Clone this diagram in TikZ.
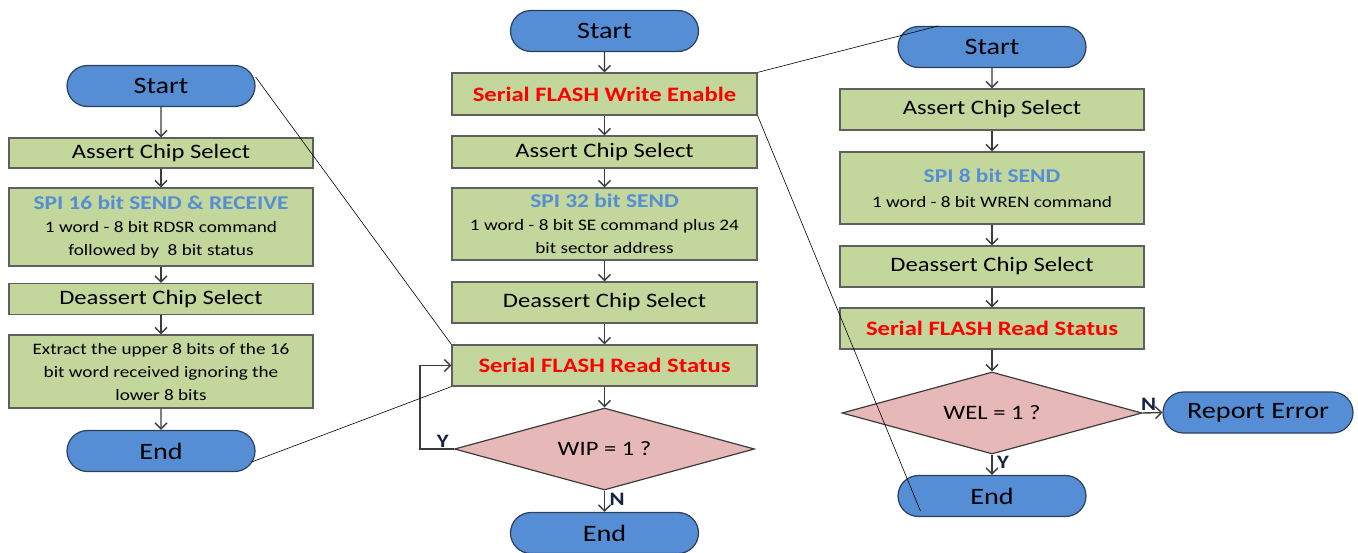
\documentclass[tikz,border=0pt]{standalone}
\usepackage{fontspec}
\setmainfont[FakeStretch=1.2]{Carlito}
\usetikzlibrary{shapes.geometric,shapes.misc,arrows.meta}
\definecolor{termblue}{RGB}{85,142,213}
\definecolor{termline}{RGB}{45,62,90}
\definecolor{boxgreen}{RGB}{195,214,155}
\definecolor{boxline}{RGB}{95,95,95}
\definecolor{decpink}{RGB}{230,185,184}
\definecolor{titleblue}{RGB}{85,142,213}
\definecolor{flowgray}{RGB}{60,60,60}
\definecolor{ynblue}{RGB}{20,35,70}
\newcommand\spititle[1]{{\fontsize{19.5}{24}\selectfont\bfseries\color{titleblue}#1}}
\newcommand\redtitle[1]{{\bfseries\color{red}#1}}
\tikzset{
  terminal/.style={rounded rectangle,draw=termline,line width=1.2pt,fill=termblue,
    minimum width=188pt,minimum height=41pt,inner sep=0pt,font=\fontsize{23.5}{28}\selectfont},
  stepbox/.style={rectangle,draw=boxline,line width=1.2pt,fill=boxgreen,
    minimum width=304pt,inner sep=0pt,align=center,font=\fontsize{20.5}{24}\selectfont},
  detailbox/.style={stepbox,font=\fontsize{16}{23}\selectfont},
  decision/.style={diamond,shape aspect=3.66,draw=flowgray,line width=1.2pt,fill=decpink,
    minimum width=300pt,minimum height=82pt,inner sep=0pt,font=\fontsize{20.5}{24}\selectfont},
  flow/.style={draw=flowgray,line width=1.4pt,-{Straight Barb[length=6pt,width=12pt]}},
  zoomline/.style={draw=black,line width=0.6pt},
  yn/.style={font=\fontsize{19}{21}\selectfont\bfseries,text=ynblue,inner sep=1.5pt}
}
\begin{document}
\begin{tikzpicture}[x=1pt,y=-1pt]
  \useasboundingbox (0,0) rectangle (1358,552);

  \node[terminal] (lstart) at (161,86) {Start};
  \node[stepbox,minimum height=30pt] (lassert) at (161,153) {Assert Chip Select};
  \node[detailbox,minimum height=78pt] (lspi) at (161,227)
    {\spititle{SPI 16 bit SEND \& RECEIVE}\\1 word - 8 bit RDSR command\\followed by\ \ 8 bit status};
  \node[stepbox,minimum height=31pt] (ldeassert) at (161,299) {Deassert Chip Select};
  \node[detailbox,minimum height=73pt] (lextract) at (161,371.5)
    {Extract the upper 8 bits of the 16\\bit word received ignoring the\\lower 8 bits};
  \node[terminal] (lend) at (161,451) {End};

  \node[terminal] (mstart) at (604.5,31) {Start};
  \node[stepbox,minimum height=42pt,minimum width=305pt] (mwren) at (604.5,94) {\redtitle{Serial FLASH Write Enable}};
  \node[stepbox,minimum height=32pt,minimum width=305pt] (massert) at (604.5,152) {Assert Chip Select};
  \node[detailbox,minimum height=72pt,minimum width=305pt] (mspi) at (604.5,224)
    {\spititle{SPI 32 bit SEND}\\1 word - 8 bit SE command plus 24\\bit sector address};
  \node[stepbox,minimum height=41pt,minimum width=305pt] (mdeassert) at (604.5,302.5) {Deassert Chip Select};
  \node[stepbox,minimum height=41pt,minimum width=305pt] (mread) at (604.5,365.5) {\redtitle{Serial FLASH Read Status}};
  \node[decision] (mwip) at (604.5,449) {WIP = 1 ?};
  \node[terminal] (mend) at (604.5,533) {End};

  \node[terminal] (rstart) at (992,47) {Start};
  \node[stepbox,minimum height=41pt] (rassert) at (992,109.5) {Assert Chip Select};
  \node[detailbox,minimum height=72pt] (rspi) at (992,188)
    {\spititle{SPI 8 bit SEND}\\[2pt]1 word - 8 bit WREN command};
  \node[stepbox,minimum height=41pt] (rdeassert) at (992,266.5) {Deassert Chip Select};
  \node[stepbox,minimum height=41pt] (rread) at (992,328.5) {\redtitle{Serial FLASH Read Status}};
  \node[decision] (rwel) at (992,413) {WEL = 1 ?};
  \node[terminal] (rend) at (992,496) {End};
  \node[terminal,minimum width=190pt] (rerror) at (1258,412.5) {Report Error};

  \draw[flow] (lstart) -- (lassert);
  \draw[flow] (lassert) -- (lspi);
  \draw[flow] (lspi) -- (ldeassert);
  \draw[flow] (ldeassert) -- (lextract);
  \draw[flow] (lextract) -- (lend);

  \draw[flow] (mstart) -- (mwren);
  \draw[flow] (mwren) -- (massert);
  \draw[flow] (massert) -- (mspi);
  \draw[flow] (mspi) -- (mdeassert);
  \draw[flow] (mdeassert) -- (mread);
  \draw[flow] (mread) -- (mwip);
  \draw[flow] (mwip) -- node[yn,right,pos=0.4,xshift=3pt] (wipno) {N} (mend);
  \draw[flow] (mwip.west) -- ++(-34,0) |- (mread.west);
  \node[yn,anchor=south] (wipyes) at ([xshift=-11pt]mwip.west) {Y};

  \draw[flow] (rstart) -- (rassert);
  \draw[flow] (rassert) -- (rspi);
  \draw[flow] (rspi) -- (rdeassert);
  \draw[flow] (rdeassert) -- (rread);
  \draw[flow] (rread) -- (rwel);
  \draw[flow] (rwel) -- node[yn,right,pos=0.4,xshift=3pt] (welyes) {Y} (rend);
  \draw[flow] (rwel.east) -- node[yn,above,pos=0.3] (welno) {N} (rerror.west);

  \draw[zoomline] ([yshift=9pt]lstart.east) -- (mread.north west);
  \draw[zoomline] ([shift={(-4pt,-11pt)}]lend.east) -- (mread.south west);
  \draw[zoomline] (mwren.north east) -- ([xshift=20pt]rstart.north west);
  \draw[zoomline] (mwren.south east) -- ([shift={(2pt,6pt)}]rend.south west);
\end{tikzpicture}
\end{document}
